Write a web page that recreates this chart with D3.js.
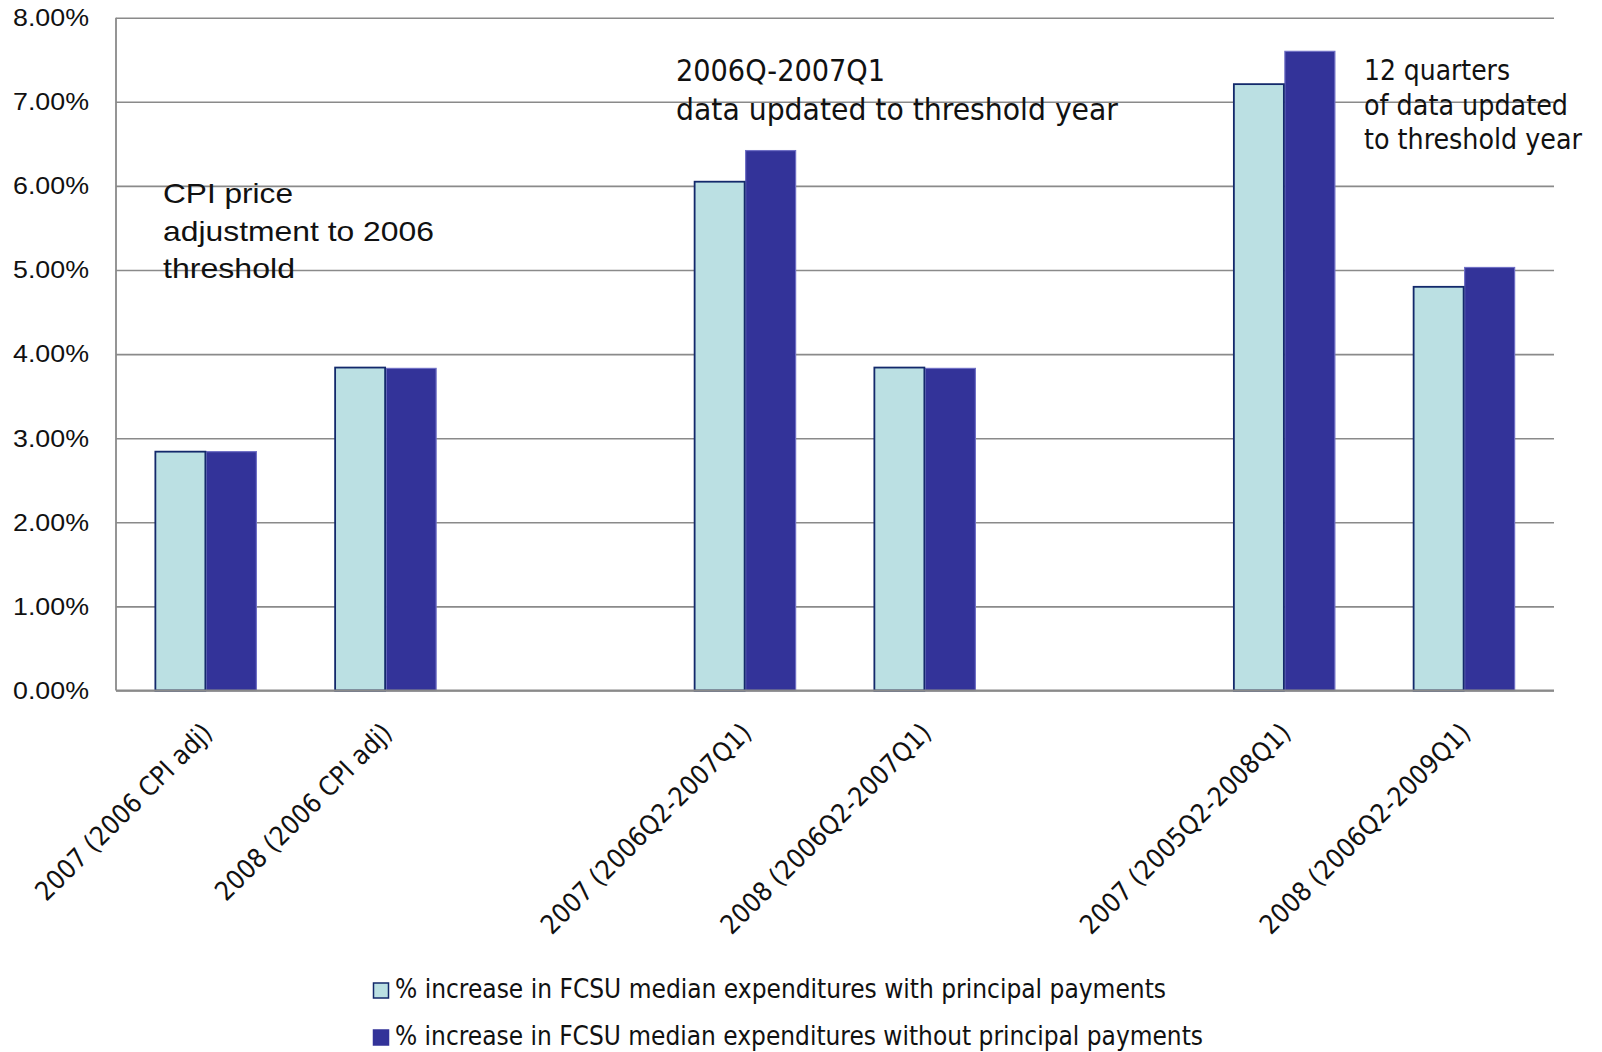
<!DOCTYPE html>
<html>
<head>
<meta charset="utf-8">
<script src="https://cdn.jsdelivr.net/npm/d3@7"></script>
<style>
  html, body { margin: 0; padding: 0; background: #fff; }
  svg { display: block; }
</style>
</head>
<body>
<svg id="chart" width="1602" height="1052"></svg>
<script>
// Category labels (blank slots separate the three groups)
const categories = [
  "2007 (2006 CPI adj)",
  "2008 (2006 CPI adj)",
  "",
  "2007 (2006Q2-2007Q1)",
  "2008 (2006Q2-2007Q1)",
  "",
  "2007 (2005Q2-2008Q1)",
  "2008 (2006Q2-2009Q1)"
];

// % increase in FCSU median expenditures
const withPrincipal    = [2.84, 3.84, null, 6.05, 3.84, null, 7.21, 4.80];
const withoutPrincipal = [2.84, 3.83, null, 6.42, 3.83, null, 7.60, 5.03];

const seriesNames = [
  "% increase in FCSU median expenditures with principal payments",
  "% increase in FCSU median expenditures without principal payments"
];

const yTicks = [0, 1, 2, 3, 4, 5, 6, 7, 8];

const annotationCPI = ["CPI price", "adjustment to 2006", "threshold"];
const annotationQ1  = ["2006Q-2007Q1", "data updated to threshold year"];
const annotation12  = ["12 quarters", "of data updated", "to threshold year"];

// ---- layout ----
const plot = { left: 116, right: 1554, top: 17.7, bottom: 690.5 };
const tahoma = "'DejaVu Sans Condensed', 'DejaVu Sans', sans-serif";
const arial = "'Liberation Sans', Arial, sans-serif";

const fills   = ["#bbe0e3", "#333399"];
const strokes = ["#13296b", "#6f6fc4"];

const svg = d3.select("#chart");

const x = d3.scaleBand()
  .domain(d3.range(categories.length))
  .range([plot.left, plot.right])
  .paddingInner(0.4325)
  .paddingOuter(0.21625);

const xs = d3.scaleBand().domain([0, 1]).range([0, x.bandwidth()]);

const y = d3.scaleLinear().domain([0, 8]).range([plot.bottom, plot.top]);

// gridlines + y tick labels
const yAxis = svg.append("g")
  .attr("transform", `translate(${plot.left},0)`)
  .call(d3.axisLeft(y).tickValues(yTicks)
    .tickSize(-(plot.right - plot.left))
    .tickPadding(27)
    .tickFormat(d => d.toFixed(2) + "%"));
yAxis.select(".domain").remove();
yAxis.selectAll(".tick line")
  .attr("stroke", "#8a8a8a").attr("stroke-width", 1.6);
yAxis.selectAll(".tick text")
  .attr("font-family", arial)
  .attr("font-size", 24.5)
  .attr("fill", "#111")
  .attr("textLength", 76)
  .attr("lengthAdjust", "spacingAndGlyphs");

// bars
const rows = categories.map((c, i) => ({ i, vals: [withPrincipal[i], withoutPrincipal[i]] }))
  .filter(r => r.vals[0] != null);

const groups = svg.append("g").selectAll("g").data(rows).join("g")
  .attr("transform", d => `translate(${x(d.i)},0)`);

// dark series first so the light bar's border sits on top
[1, 0].forEach(s => {
  groups.append("rect")
    .attr("x", xs(s) + 0.5)
    .attr("width", xs.bandwidth() - 1)
    .attr("y", d => y(d.vals[s]))
    .attr("height", d => y(0) - y(d.vals[s]))
    .attr("fill", fills[s])
    .attr("stroke", strokes[s])
    .attr("stroke-width", s === 0 ? 1.8 : 1.2);
});

// left axis line and baseline
svg.append("line")
  .attr("x1", plot.left).attr("x2", plot.left)
  .attr("y1", plot.top).attr("y2", plot.bottom)
  .attr("stroke", "#8a8a8a").attr("stroke-width", 1.8);
svg.append("line")
  .attr("x1", plot.left).attr("x2", plot.right)
  .attr("y1", plot.bottom).attr("y2", plot.bottom)
  .attr("stroke", "#8a8a8a").attr("stroke-width", 1.8);

// category labels, rotated 45°
const xAxis = svg.append("g")
  .attr("transform", `translate(0,${plot.bottom})`)
  .call(d3.axisBottom(x).tickSize(0).tickFormat(i => categories[i]));
xAxis.select(".domain").remove();
xAxis.selectAll(".tick text")
  .attr("font-family", tahoma)
  .attr("font-size", 26.5)
  .attr("fill", "#111")
  .attr("text-anchor", "end")
  .attr("dy", null)
  .attr("y", null)
  .attr("transform", "translate(8,44) rotate(-45)");

// annotations
function block(lines, x0, y0, lh, size, family, widths) {
  const t = svg.append("text")
    .attr("font-family", family)
    .attr("font-size", size)
    .attr("fill", "#111");
  lines.forEach((l, k) => {
    t.append("tspan")
      .attr("x", x0).attr("y", y0 + k * lh)
      .attr("textLength", widths[k])
      .attr("lengthAdjust", "spacingAndGlyphs")
      .text(l);
  });
}
block(annotationCPI, 163, 203, 37.5, 28, arial, [130, 271, 132]);
block(annotationQ1, 676, 80.7, 39.5, 31, tahoma, [209, 442]);
block(annotation12, 1364, 80, 34.5, 27.5, tahoma, [146, 204, 218]);

// legend
const legend = svg.append("g");
const legendWidths = [771, 808];
seriesNames.forEach((name, s) => {
  const ly = 998 + s * 47;
  legend.append("rect")
    .attr("x", 373.5).attr("y", ly - 15)
    .attr("width", 15).attr("height", 15)
    .attr("fill", fills[s])
    .attr("stroke", s === 0 ? strokes[0] : fills[1])
    .attr("stroke-width", 1.5);
  legend.append("text")
    .attr("x", 395).attr("y", ly)
    .attr("font-family", tahoma)
    .attr("font-size", 26)
    .attr("fill", "#111")
    .attr("textLength", legendWidths[s])
    .attr("lengthAdjust", "spacingAndGlyphs")
    .text(name);
});
</script>
</body>
</html>
